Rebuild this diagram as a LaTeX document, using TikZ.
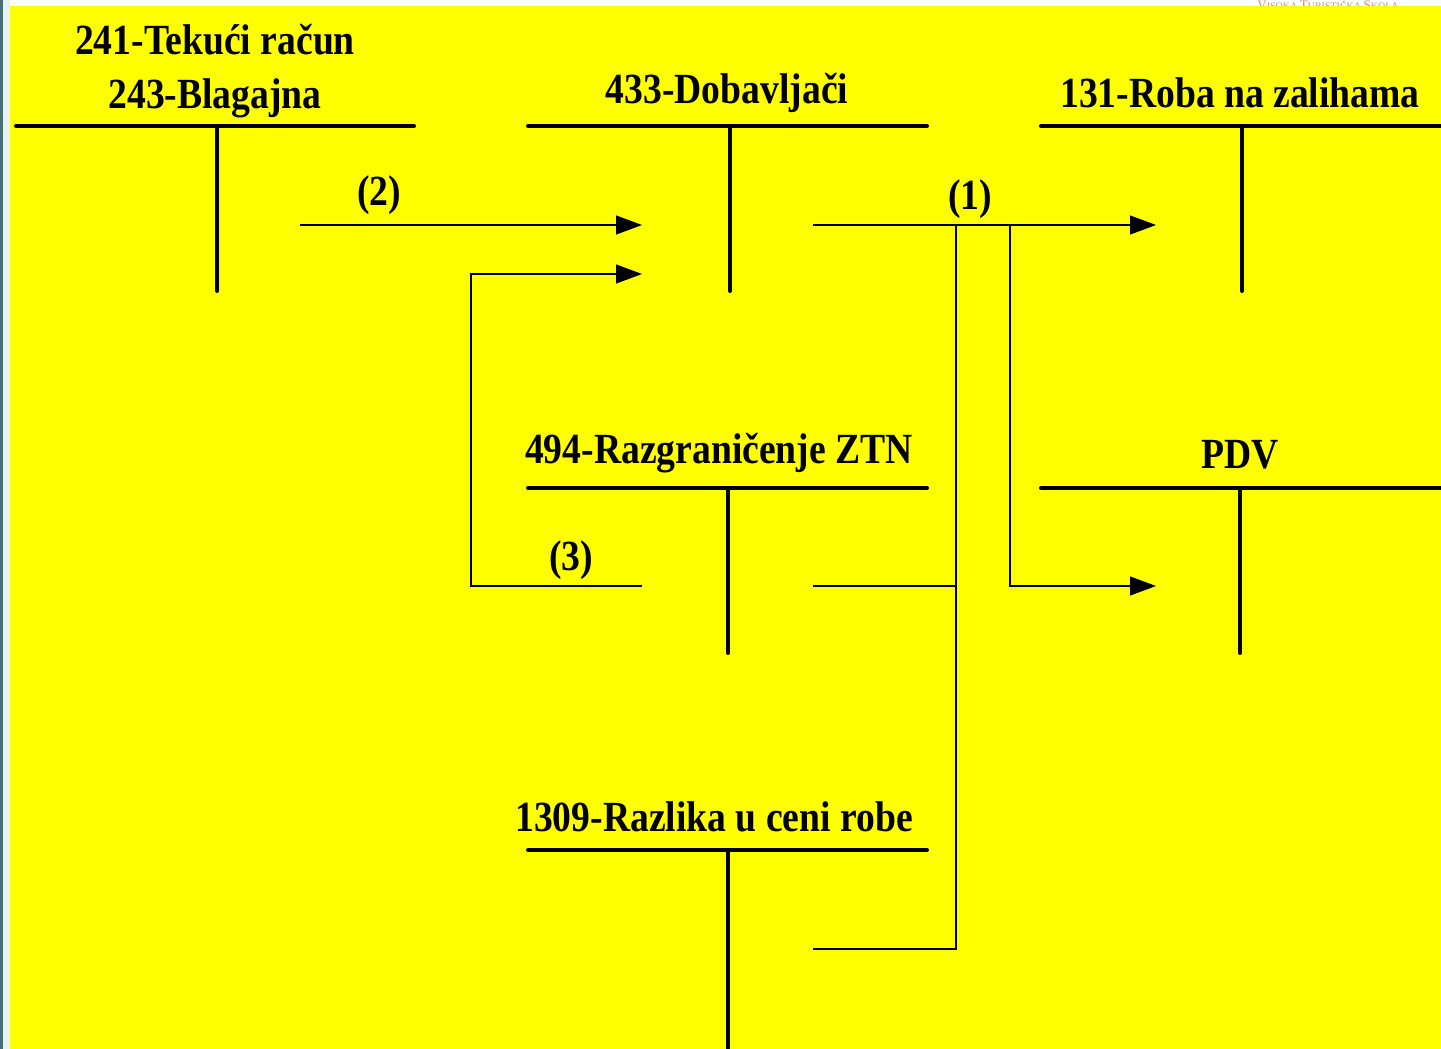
\documentclass[tikz,border=0pt]{standalone}
\usepackage{fontspec}
\setmainfont{Liberation Serif}
\newfontfamily\titlefont[FakeStretch=0.875]{Liberation Serif}
\usetikzlibrary{arrows.meta}
\definecolor{bgyellow}{RGB}{255,255,0}
\definecolor{stripteal}{RGB}{70,112,118}
\definecolor{stripwhite}{RGB}{232,242,246}
\definecolor{logotan}{RGB}{190,150,120}
\tikzset{
  acctline/.style={line width=4pt, line cap=round},
  flow/.style={line width=1.1pt},
  flowarrow/.style={line width=1.1pt, -{Triangle[length=26pt,width=19pt]}},
  title/.style={font=\titlefont\bfseries\fontsize{43}{46}\selectfont, anchor=base, inner sep=0pt},
  mark label/.style={font=\titlefont\bfseries\fontsize{43}{46}\selectfont, anchor=base, inner sep=0pt},
}
\begin{document}
\begin{tikzpicture}[x=1pt,y=-1pt]
\useasboundingbox (0,0) rectangle (1441,1049);
% background
\fill[white] (0,0) rectangle (1441,1049);
\fill[stripteal] (0,0) rectangle (3,1049);
\fill[stripwhite] (3,0) rectangle (10,1049);
\begin{scope}
  \clip (10,0) rectangle (1441,6);
  \node[font=\fontsize{13}{14}\selectfont, text=logotan, anchor=base, inner sep=0pt] (logo) at (1328,10) {V\fontsize{10}{12}\selectfont ISOKA \fontsize{13}{14}\selectfont T\fontsize{10}{12}\selectfont URISTIČKA \fontsize{13}{14}\selectfont Š\fontsize{10}{12}\selectfont KOLA};
\end{scope}
\fill[bgyellow] (10,6) rectangle (1441,1049);

% T-accounts
\draw[acctline] (16,126) -- (414,126);
\draw[acctline] (217,126) -- (217,291);
\node[title] (t241) at (215,55) {241-Tekući račun};
\node[title] (t243) at (215,108) {243-Blagajna};

\draw[acctline] (528,126) -- (927,126);
\draw[acctline] (730,126) -- (730,291);
\node[title] (t433) at (727,103) {433-Dobavljači};

\draw[acctline] (1041,126) -- (1445,126);
\draw[acctline] (1242,126) -- (1242,291);
\node[title] (t131) at (1240,107) {131-Roba na zalihama};

\draw[acctline] (528,488) -- (927,488);
\draw[acctline] (728,488) -- (728,653);
\node[title] (t494) at (719,463) {494-Razgraničenje ZTN};

\draw[acctline] (1041,488) -- (1445,488);
\draw[acctline] (1240,488) -- (1240,653);
\node[title] (tpdv) at (1240,468) {PDV};

\draw[acctline] (528,850) -- (927,850);
\draw[acctline] (728,850) -- (728,1060);
\node[title] (t1309) at (714,831) {1309-Razlika u ceni robe};

% flow coordinates
\coordinate (a2s) at (300,225);
\coordinate (a2e) at (642,225);
\coordinate (a3s) at (642,586);
\coordinate (a3c) at (471,586);
\coordinate (a3d) at (471,274);
\coordinate (a3e) at (642,274);
\coordinate (a1s) at (813,225);
\coordinate (a1e) at (1156,225);
\coordinate (j1) at (956,225);
\coordinate (j2) at (956,586);
\coordinate (j3) at (956,949);
\coordinate (z494) at (813,586);
\coordinate (z1309) at (813,949);
\coordinate (p1) at (1010,225);
\coordinate (p2) at (1010,586);
\coordinate (pe) at (1156,586);

% flows
\draw[flowarrow] (a2s) -- (a2e);
\node[mark label] (l2) at (379,205) {(2)};
\draw[flowarrow] (a3s) -- (a3c) -- (a3d) -- (a3e);
\node[mark label] (l3) at (571,570) {(3)};
\draw[flowarrow] (a1s) -- (a1e);
\node[mark label] (l1) at (970,209) {(1)};
\draw[flow] (j1) -- (j3) -- (z1309);
\draw[flow] (z494) -- (j2);
\draw[flowarrow] (p1) -- (p2) -- (pe);
\end{tikzpicture}
\end{document}
